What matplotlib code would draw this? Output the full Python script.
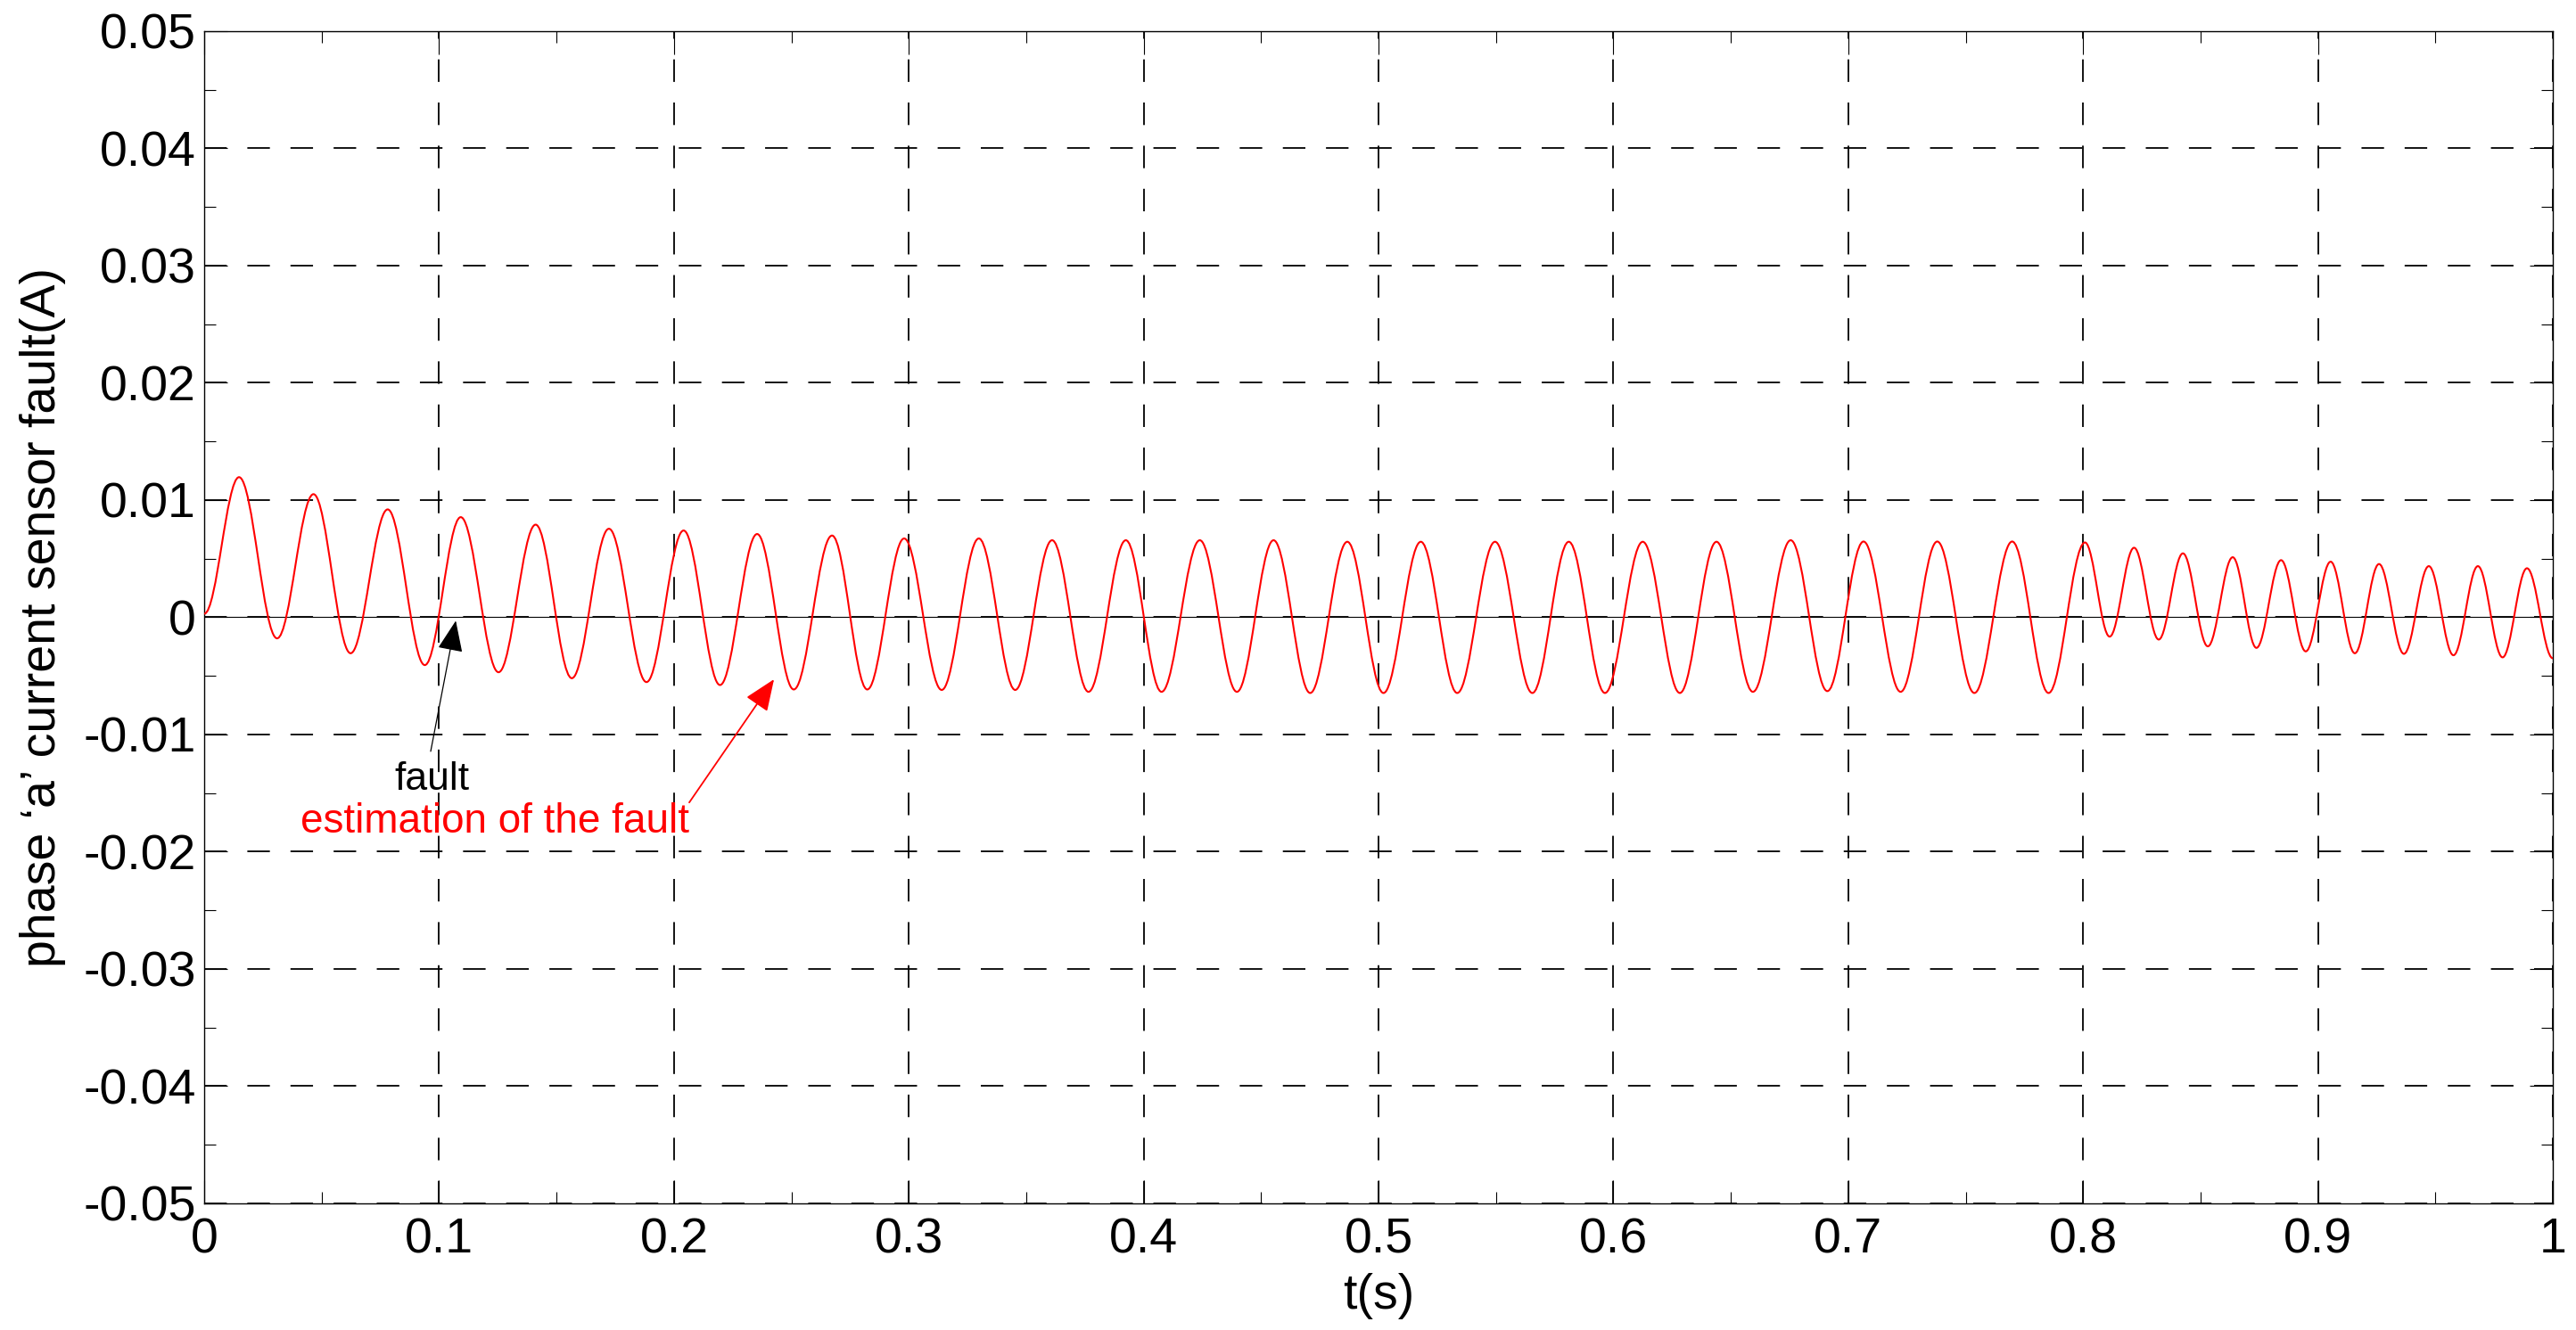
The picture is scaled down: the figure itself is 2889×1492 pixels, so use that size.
import matplotlib
matplotlib.use('Agg')
import matplotlib.pyplot as plt
from matplotlib.path import Path
from matplotlib.patches import PathPatch
from matplotlib.ticker import MultipleLocator

# estimation of the fault: start / end points and the extrema
t_start, v_start = 0.0, 0.0003
t_end, v_end = 1.0, -0.0035

t_peak = [0.0148, 0.0465, 0.0781, 0.1092, 0.1411, 0.1723, 0.2041, 0.2354,
          0.2673, 0.2980, 0.3298, 0.3610, 0.3924, 0.4239, 0.4553, 0.4867,
          0.5180, 0.5496, 0.5810, 0.6125, 0.6439, 0.6755, 0.7065, 0.7379,
          0.7698, 0.8008, 0.8217, 0.8425, 0.8637, 0.8843, 0.9054, 0.9260,
          0.9472, 0.9681, 0.9890]
v_peak = [0.01195, 0.0105, 0.0092, 0.00854, 0.0079, 0.00755, 0.0074, 0.0071,
          0.00697, 0.00672, 0.00672, 0.00657, 0.00657, 0.00657, 0.00657, 0.00644,
          0.00644, 0.00644, 0.00644, 0.00644, 0.00644, 0.00657, 0.00646, 0.00646,
          0.00646, 0.00638, 0.00593, 0.00545, 0.00512, 0.00487, 0.00474, 0.00454,
          0.00436, 0.00436, 0.00418]

t_trough = [0.0310, 0.0623, 0.0939, 0.1253, 0.1565, 0.1883, 0.2196, 0.2510,
            0.2823, 0.3140, 0.3453, 0.3765, 0.4076, 0.4397, 0.4709, 0.5021,
            0.5335, 0.5655, 0.5964, 0.6283, 0.6594, 0.6911, 0.7223, 0.7537,
            0.7853, 0.8113, 0.8322, 0.8531, 0.8738, 0.8948, 0.9157, 0.9366,
            0.9577, 0.9786]
v_trough = [-0.0018, -0.00307, -0.00408, -0.00469, -0.0052, -0.00553, -0.00578, -0.00616,
            -0.00616, -0.0062, -0.0062, -0.00636, -0.00636, -0.00636, -0.00646, -0.00646,
            -0.00646, -0.00646, -0.00646, -0.00646, -0.00636, -0.0063, -0.00636, -0.00646,
            -0.00646, -0.00165, -0.0019, -0.00248, -0.00261, -0.00291, -0.00307, -0.00312,
            -0.00324, -0.00342]

# the actual fault
t_fault = [0.0, 1.0]
v_fault = [0.0, 0.0]

x_ticks = [0, 0.1, 0.2, 0.3, 0.4, 0.5, 0.6, 0.7, 0.8, 0.9, 1.0]
x_tick_labels = ['0', '0.1', '0.2', '0.3', '0.4', '0.5', '0.6', '0.7', '0.8', '0.9', '1']
y_ticks = [-0.05, -0.04, -0.03, -0.02, -0.01, 0, 0.01, 0.02, 0.03, 0.04, 0.05]
y_tick_labels = ['-0.05', '-0.04', '-0.03', '-0.02', '-0.01', '0',
                 '0.01', '0.02', '0.03', '0.04', '0.05']

plt.rcParams['font.family'] = ['Liberation Sans', 'DejaVu Sans']

fig = plt.figure(figsize=(28.89, 14.92), dpi=100)
ax = fig.add_axes([0.0793, 0.0952, 0.9117, 0.8814])

ax.plot(t_fault, v_fault, color='black', lw=0.8, zorder=2)

# smooth trace through the extrema (flat tangents at each extremum)
pts = [(t_start, v_start)]
for i in range(len(t_peak)):
    pts.append((t_peak[i], v_peak[i]))
    if i < len(t_trough):
        pts.append((t_trough[i], v_trough[i]))
pts.append((t_end, v_end))

k = 0.3642
verts = [pts[0]]
codes = [Path.MOVETO]
for (t0, y0), (t1, y1) in zip(pts[:-1], pts[1:]):
    dt = t1 - t0
    verts += [(t0 + k * dt, y0), (t1 - k * dt, y1), (t1, y1)]
    codes += [Path.CURVE4] * 3
ax.add_patch(PathPatch(Path(verts, codes), fill=False, edgecolor='red',
                       lw=1.5, zorder=3))

ax.set_xlim(0, 1)
ax.set_ylim(-0.05, 0.05)
ax.set_xticks(x_ticks)
ax.set_xticklabels(x_tick_labels)
ax.set_yticks(y_ticks)
ax.set_yticklabels(y_tick_labels)
ax.xaxis.set_minor_locator(MultipleLocator(0.05))
ax.yaxis.set_minor_locator(MultipleLocator(0.005))

ax.grid(True, which='major', color='black', linestyle=(0, (14, 12.8)), lw=1.3)
ax.set_axisbelow(True)
ax.tick_params(which='both', direction='in', top=True, right=True,
               width=0.8, labelsize=40, colors='black')
ax.tick_params(which='major', length=18.7)
ax.tick_params(which='minor', length=9.4)
ax.tick_params(axis='x', pad=11)
ax.tick_params(axis='y', pad=6.5)
for s in ax.spines.values():
    s.set_linewidth(1.0)

ax.set_xlabel('t(s)', fontsize=40, labelpad=8)
ax.set_ylabel('phase \u2018a\u2019 current sensor fault(A)', fontsize=40, labelpad=14)

# annotations
ax.text(0.0968, -0.01471, 'fault', fontsize=32, color='black',
        ha='center', va='baseline')
ax.annotate('', xy=(0.1071, -0.0003), xytext=(0.0964, -0.01144),
            arrowprops=dict(arrowstyle='-|>,head_length=2.2,head_width=0.9',
                            color='black', lw=0.9, shrinkA=0, shrinkB=0,
                            mutation_scale=10))
ax.text(0.1238, -0.01837, 'estimation of the fault', fontsize=33, color='red',
        ha='center', va='baseline')
ax.annotate('', xy=(0.2426, -0.00529), xytext=(0.2065, -0.0158),
            arrowprops=dict(arrowstyle='-|>,head_length=2.2,head_width=0.9',
                            color='red', lw=1.3, shrinkA=0, shrinkB=0,
                            mutation_scale=10))

fig.savefig('out.png', dpi=100, facecolor='white')
